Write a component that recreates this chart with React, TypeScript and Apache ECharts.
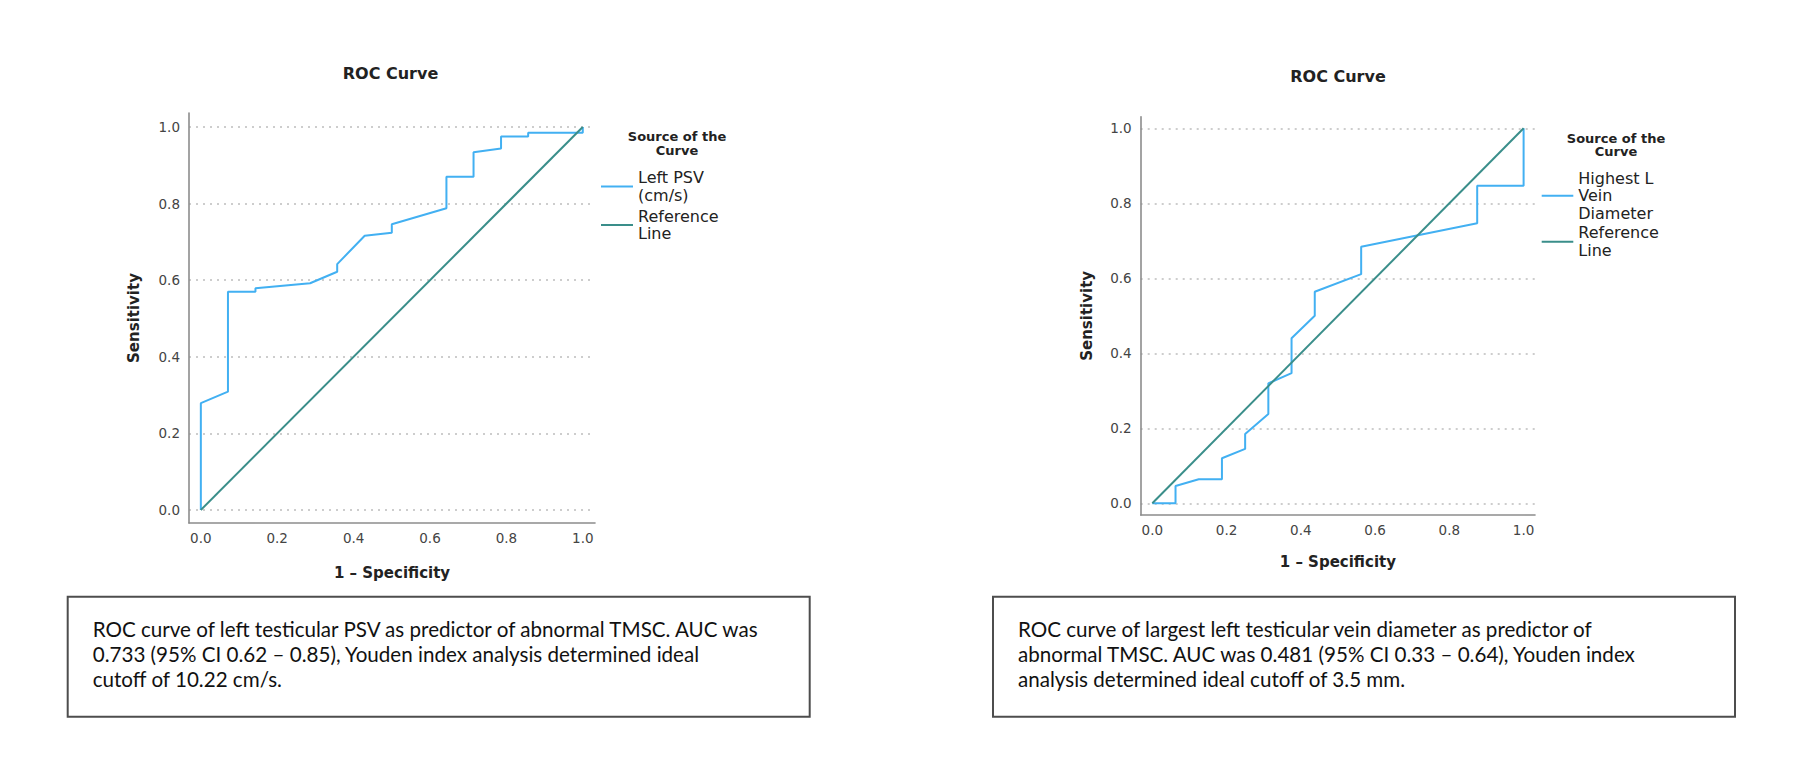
import React, { useEffect, useRef } from "react";
import * as echarts from "echarts";

// ---------- data ----------
const tickValues = [0, 0.2, 0.4, 0.6, 0.8, 1.0];

// Left chart: Left PSV (cm/s)
const leftFpr = [0, 0, 0.071, 0.071, 0.143, 0.143, 0.286, 0.357, 0.357, 0.429, 0.5, 0.5, 0.643, 0.643, 0.714, 0.714, 0.786, 0.786, 0.857, 0.857, 1.0, 1.0];
const leftTpr = [0, 0.279, 0.309, 0.570, 0.570, 0.579, 0.592, 0.622, 0.642, 0.716, 0.724, 0.746, 0.788, 0.870, 0.870, 0.934, 0.944, 0.975, 0.975, 0.985, 0.985, 1.0];

// Right chart: Highest L Vein Diameter
const rightFpr = [0, 0.0625, 0.0625, 0.125, 0.1875, 0.1875, 0.25, 0.25, 0.3125, 0.3125, 0.375, 0.375, 0.4375, 0.4375, 0.5625, 0.5625, 0.875, 0.875, 1.0, 1.0];
const rightTpr = [0, 0, 0.046, 0.064, 0.064, 0.12, 0.145, 0.185, 0.238, 0.32, 0.347, 0.44, 0.50, 0.564, 0.611, 0.684, 0.747, 0.847, 0.847, 1.0];

const refFpr = [0, 1];
const refTpr = [0, 1];

const leftSeriesName = "Left PSV (cm/s)";
const rightSeriesName = "Highest L Vein Diameter";
const refName = "Reference Line";
const legendLabels: Record<string, string> = {
  "Left PSV (cm/s)": "Left PSV\n(cm/s)",
  "Highest L Vein Diameter": "Highest L\nVein\nDiameter",
  "Reference Line": "Reference\nLine",
};

const chartTitle = "ROC Curve";
const xTitle = "1 \u2013 Specificity";
const yTitle = "Sensitivity";
const legendTitle = "Source of the\nCurve";

const leftCaption = [
  "ROC curve of left testicular PSV as predictor of abnormal TMSC. AUC was",
  "0.733 (95% CI 0.62 \u2013 0.85), Youden index analysis determined ideal",
  "cutoff of 10.22 cm/s.",
];
const rightCaption = [
  "ROC curve of largest left testicular vein diameter as predictor of",
  "abnormal TMSC. AUC was 0.481 (95% CI 0.33 \u2013 0.64), Youden index",
  "analysis determined ideal cutoff of 3.5 mm.",
];

// ---------- styles ----------
const FONT = '"DejaVu Sans", sans-serif';
const CAPTION_FONT = '20.6px Lato, "Open Sans", sans-serif';
const BLUE = "#42b0f2";
const TEAL = "#3a8e8a";
const AXIS = "#8c8c8c";
const GRIDC = "#bdbdbd";

function pairs(xs: number[], ys: number[]) {
  return xs.map((x, i) => [x, ys[i]]);
}

function xAxis(gridIndex: number, min: number, max: number, nameGap: number) {
  return {
    type: "value",
    gridIndex,
    min,
    max,
    name: xTitle,
    nameLocation: "middle",
    nameGap,
    nameTextStyle: { fontFamily: FONT, fontSize: 15, fontWeight: "bold", color: "#222" },
    axisLine: { show: true, onZero: false, lineStyle: { color: AXIS, width: 1.6 } },
    axisTick: { show: false, customValues: tickValues },
    axisLabel: {
      customValues: tickValues,
      formatter: (v: number) => v.toFixed(1),
      margin: 8,
      fontFamily: FONT,
      fontSize: 13.5,
      color: "#444",
    },
    splitLine: { show: false },
  };
}

function yAxis(gridIndex: number, min: number, max: number, nameGap: number) {
  return {
    type: "value",
    gridIndex,
    min,
    max,
    name: yTitle,
    nameLocation: "middle",
    nameGap,
    nameTextStyle: { fontFamily: FONT, fontSize: 15, fontWeight: "bold", color: "#222" },
    axisLine: { show: true, onZero: false, lineStyle: { color: AXIS, width: 1.6 } },
    axisTick: { show: false, customValues: tickValues },
    axisLabel: {
      customValues: tickValues,
      formatter: (v: number) => v.toFixed(1),
      margin: 9,
      fontFamily: FONT,
      fontSize: 13.5,
      color: "#444",
    },
    splitLine: { show: true, lineStyle: { color: GRIDC, width: 1.5, type: [2, 5] } },
  };
}

function legend(left: number, top: number, gap: number, iconW: number, names: string[]) {
  return {
    data: names,
    orient: "vertical",
    left,
    top,
    padding: 0,
    itemGap: gap,
    itemWidth: iconW,
    itemHeight: 2,
    icon: "rect",
    selectedMode: false,
    formatter: (n: string) => legendLabels[n] || n,
    textStyle: { fontFamily: FONT, fontSize: 16, lineHeight: 17.5, color: "#222" },
  };
}

export default function App() {
  const ref = useRef<HTMLDivElement>(null);

  useEffect(() => {
    document.body.style.margin = "0";
    if (!ref.current) return;
    const chart = echarts.init(ref.current, undefined, { renderer: "svg" });

    const option: any = {
      animation: false,
      backgroundColor: "#ffffff",
      title: [
        {
          text: chartTitle,
          left: 390.5,
          top: 73.3,
          padding: 0,
          textAlign: "center",
          textVerticalAlign: "middle",
          textStyle: { fontFamily: FONT, fontSize: 16, fontWeight: "bold", color: "#222" },
        },
        {
          text: chartTitle,
          left: 1338,
          top: 76.7,
          padding: 0,
          textAlign: "center",
          textVerticalAlign: "middle",
          textStyle: { fontFamily: FONT, fontSize: 16, fontWeight: "bold", color: "#222" },
        },
      ],
      grid: [
        { left: 189, top: 113, width: 406, height: 410, containLabel: false },
        { left: 1140.7, top: 116.7, width: 394.3, height: 398.3, containLabel: false },
      ],
      xAxis: [xAxis(0, -0.031, 1.032, 42), xAxis(1, -0.0313, 1.0307, 39)],
      yAxis: [yAxis(0, -0.034, 1.0366, 48), yAxis(1, -0.0312, 1.0309, 46)],
      legend: [
        legend(601, 169, 3.5, 32, [leftSeriesName, refName]),
        legend(1541.7, 169.4, 2.3, 31.6, [rightSeriesName, refName]),
      ],
      series: [
        {
          type: "line",
          name: leftSeriesName,
          xAxisIndex: 0,
          yAxisIndex: 0,
          data: pairs(leftFpr, leftTpr),
          showSymbol: false,
          symbol: "none",
          lineStyle: { color: BLUE, width: 2 },
          itemStyle: { color: BLUE },
        },
        {
          type: "line",
          name: refName,
          xAxisIndex: 0,
          yAxisIndex: 0,
          data: pairs(refFpr, refTpr),
          showSymbol: false,
          symbol: "none",
          lineStyle: { color: TEAL, width: 2 },
          itemStyle: { color: TEAL },
        },
        {
          type: "line",
          name: rightSeriesName,
          xAxisIndex: 1,
          yAxisIndex: 1,
          data: pairs(rightFpr, rightTpr),
          showSymbol: false,
          symbol: "none",
          lineStyle: { color: BLUE, width: 2 },
          itemStyle: { color: BLUE },
        },
        {
          type: "line",
          name: refName,
          xAxisIndex: 1,
          yAxisIndex: 1,
          data: pairs(refFpr, refTpr),
          showSymbol: false,
          symbol: "none",
          lineStyle: { color: TEAL, width: 2 },
          itemStyle: { color: TEAL },
        },
      ],
      graphic: [
        {
          type: "text",
          x: 677,
          y: 129,
          style: {
            text: legendTitle,
            font: `bold 13px ${FONT}`,
            lineHeight: 14,
            align: "center",
            textAlign: "center",
            verticalAlign: "top",
            fill: "#222",
          },
        },
        {
          type: "text",
          x: 1616,
          y: 131.5,
          style: {
            text: legendTitle,
            font: `bold 13px ${FONT}`,
            lineHeight: 13.5,
            align: "center",
            textAlign: "center",
            verticalAlign: "top",
            fill: "#222",
          },
        },
        {
          type: "rect",
          shape: { x: 67.7, y: 596.7, width: 742, height: 120 },
          style: { fill: "#ffffff", stroke: "#4d4d4d", lineWidth: 2 },
          z: 1,
        },
        {
          type: "rect",
          shape: { x: 993, y: 596.7, width: 742, height: 120 },
          style: { fill: "#ffffff", stroke: "#4d4d4d", lineWidth: 2 },
          z: 1,
        },
        {
          type: "text",
          x: 92.7,
          y: 616,
          z: 2,
          style: {
            text: leftCaption.join("\n"),
            font: CAPTION_FONT,
            lineHeight: 25,
            fill: "#111",
          },
        },
        {
          type: "text",
          x: 1018,
          y: 616,
          z: 2,
          style: {
            text: rightCaption.join("\n"),
            font: CAPTION_FONT,
            lineHeight: 25,
            fill: "#111",
          },
        },
      ],
    };

    chart.setOption(option);
    return () => {
      chart.dispose();
    };
  }, []);

  return <div ref={ref} style={{ width: 1800, height: 758 }} />;
}
